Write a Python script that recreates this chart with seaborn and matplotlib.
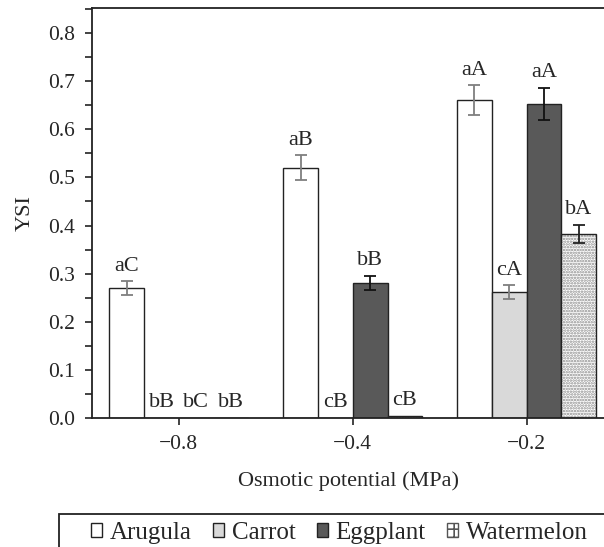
import numpy as np
import pandas as pd
import matplotlib
matplotlib.use("Agg")
import matplotlib.pyplot as plt
from matplotlib.patches import Patch, Rectangle
from matplotlib.ticker import MultipleLocator
import seaborn as sns

# data
potentials = ["\u22120.8", "\u22120.4", "\u22120.2"]
species = ["Arugula", "Carrot", "Eggplant", "Watermelon"]
arugula = [0.270, 0.520, 0.660]
carrot = [0.0, 0.0, 0.262]
eggplant = [0.0, 0.281, 0.653]
watermelon = [0.0, 0.005, 0.382]
arugula_err = [0.014, 0.026, 0.031]
carrot_err = [0.0, 0.0, 0.014]
eggplant_err = [0.0, 0.015, 0.033]
watermelon_err = [0.0, 0.0, 0.019]
arugula_lab = ["aC", "aB", "aA"]
carrot_lab = ["bB", "cB", "cA"]
eggplant_lab = ["bC", "bB", "aA"]
watermelon_lab = ["bB", "cB", "bA"]

values = [arugula, carrot, eggplant, watermelon]
errors = [arugula_err, carrot_err, eggplant_err, watermelon_err]
letters = [arugula_lab, carrot_lab, eggplant_lab, watermelon_lab]

face = ["white", "#d9d9d9", "#595959", "white"]
errcol = ["#7f7f7f", "#7f7f7f", "#111111", "#222222"]

rows = []
for s, vals in zip(species, values):
    for p, v in zip(potentials, vals):
        rows.append({"potential": p, "species": s, "ysi": v})
df = pd.DataFrame(rows)

sns.set_style("ticks")
plt.rcParams["font.family"] = ["Liberation Serif", "DejaVu Serif"]
plt.rcParams["hatch.color"] = "#8c8c8c"
plt.rcParams["hatch.linewidth"] = 1.2

fig = plt.figure(figsize=(6.04, 5.47), dpi=100)
ax = fig.add_axes([92 / 604, 1 - 418 / 547, 1 - 92 / 604, 410 / 547])

sns.barplot(data=df, x="potential", y="ysi", hue="species", order=potentials,
            hue_order=species, palette=face, width=0.8, errorbar=None,
            edgecolor="#222222", linewidth=1.0, legend=False, ax=ax)

# bars sorted left to right: group by group, species by species
bars = sorted([p for p in ax.patches if isinstance(p, Rectangle)],
              key=lambda p: p.get_x())

k = 0
for j in range(len(potentials)):
    for i in range(len(species)):
        bar = bars[k]
        k += 1
        cx = bar.get_x() + bar.get_width() / 2
        v = values[i][j]
        e = errors[i][j]
        bar.set_facecolor(face[i])
        if species[i] == "Watermelon":
            bar.set_hatch("......")
            bar.set_edgecolor("#8c8c8c")
            bar.set_linewidth(0)
            ax.add_patch(Rectangle((bar.get_x(), 0), bar.get_width(), bar.get_height(),
                                   fill=False, edgecolor="#222222", linewidth=1.0, zorder=3))
        if e > 0:
            ax.errorbar(cx, v, yerr=e, fmt="none", ecolor=errcol[i], elinewidth=1.3,
                        capsize=4, capthick=1.3, zorder=4)
        ax.annotate(letters[i][j], (cx, v + e), xytext=(0, 4), textcoords="offset points",
                    ha="center", va="bottom", fontsize=16)

ax.set_xlim(-0.5, 2.445)
ax.set_ylim(0, 0.852)
ax.yaxis.set_major_locator(MultipleLocator(0.1))
ax.yaxis.set_minor_locator(MultipleLocator(0.05))
ax.set_yticks(np.arange(0, 0.81, 0.1))
ax.set_yticklabels([f"{t:.1f}" for t in ax.get_yticks()])
ax.tick_params(axis="both", which="major", direction="out", length=5, width=1.2,
               labelsize=15.5, color="#222222")
ax.tick_params(axis="y", which="major", pad=7)
ax.tick_params(axis="x", which="major", pad=7)
ax.tick_params(axis="y", which="minor", direction="out", length=5, width=1.2, color="#222222")
ax.set_xlabel("Osmotic potential (MPa)", fontsize=16, labelpad=13)
ax.set_ylabel("YSI", fontsize=16, labelpad=10)
for side in ["left", "bottom", "top"]:
    ax.spines[side].set_linewidth(1.3)
    ax.spines[side].set_color("#222222")
ax.spines["right"].set_visible(False)

# legend with its own frame running off the right edge
handles = []
for i, s in enumerate(species):
    if s == "Watermelon":
        handles.append(Patch(facecolor="white", edgecolor="#555555", hatch="++", linewidth=1.0))
    else:
        handles.append(Patch(facecolor=face[i], edgecolor="#222222", linewidth=1.0))
fig.legend(handles, species, loc="center left", bbox_to_anchor=(91 / 604, 1 - 533 / 547),
           ncol=4, frameon=False, fontsize=18, handlelength=0.45, handleheight=0.45,
           handletextpad=0.3, columnspacing=0.85, borderaxespad=0, borderpad=0)
fig.patches.append(Rectangle((59 / 604, -0.05), 1.0, 0.05 + 1 - 514 / 547,
                             transform=fig.transFigure, fill=False,
                             edgecolor="#222222", linewidth=1.3))

fig.savefig("out.png", dpi=100)
